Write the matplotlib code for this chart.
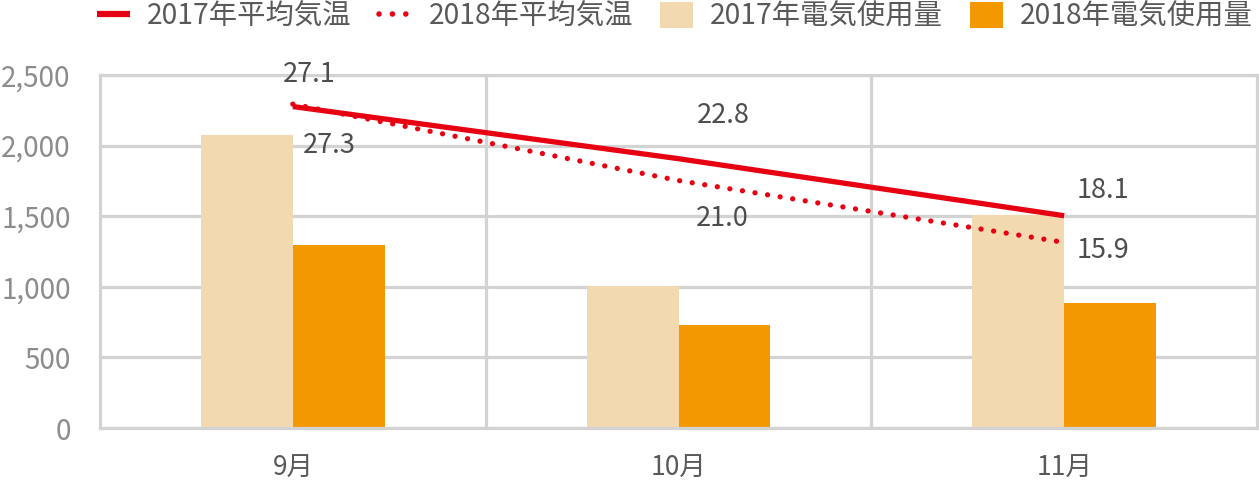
import matplotlib
matplotlib.use("Agg")
import matplotlib.pyplot as plt
from matplotlib.lines import Line2D
from matplotlib.patches import Patch
import numpy as np

plt.rcParams['font.family'] = ['Noto Sans CJK JP', 'DejaVu Sans']

months = ['9月', '10月', '11月']
power_2017 = [2075, 1003, 1508]
power_2018 = [1298, 730, 887]
temp_2017 = [27.1, 22.8, 18.1]
temp_2018 = [27.3, 21.0, 15.9]
yticks = [0, 500, 1000, 1500, 2000, 2500]
ytick_labels = ['0', '500', '1,000', '1,500', '2,000', '2,500']

label_2017_temp = '2017年平均気温'
label_2018_temp = '2018年平均気温'
label_2017_pow = '2017年電気使用量'
label_2018_pow = '2018年電気使用量'

c_bar17 = '#F3D9B0'
c_bar18 = '#F39800'
c_line = '#E60012'
c_grid = '#D3D3D3'
c_text = '#595959'
c_ytick = '#8C8C8C'
c_label = '#4D4D4D'

W, H = 1259, 482
fig = plt.figure(figsize=(W / 100, H / 100), dpi=100)
ax = fig.add_axes([100 / W, 1 - 428 / H, (1257 - 100) / W, (428 - 75) / H])

x = np.arange(len(months))
bw = 0.238
ax.bar(x - bw / 2, power_2017, width=bw, color=c_bar17, zorder=2)
ax.bar(x + bw / 2, power_2018, width=bw, color=c_bar18, zorder=2)

ax.set_xlim(-0.5, len(months) - 0.5)
ax.set_ylim(0, 2500)
ax.set_yticks(yticks)
ax.set_yticklabels(ytick_labels)
ax.set_xticks(x)
ax.set_xticklabels(months)
ax.set_xticks(np.arange(0.5, len(months) - 0.5, 1.0), minor=True)
ax.tick_params(axis='y', length=0, pad=21, labelsize=20, labelcolor=c_ytick)
ax.tick_params(axis='x', which='major', length=0, pad=19, labelsize=19, labelcolor=c_text)
ax.tick_params(axis='x', which='minor', length=0)
ax.grid(axis='y', which='major', color=c_grid, linewidth=2.3, zorder=0)
ax.grid(axis='x', which='minor', color=c_grid, linewidth=2.3, zorder=0)
ax.set_axisbelow(True)
for s in ax.spines.values():
    s.set_color(c_grid)
    s.set_linewidth(2.3)

ax2 = ax.twinx()
ax2.set_ylim(0.6, 29.7)
ax2.axis('off')
ax2.plot(x, temp_2017, color=c_line, linewidth=3.8, solid_capstyle='butt', zorder=3)
ax2.plot(x, temp_2018, color=c_line, linewidth=3.8, linestyle=(0, (0.01, 2.4)),
         dash_capstyle='round', zorder=3)

offs17 = [(12, 23), (32, 31), (28, 18)]
offs18 = [(26.5, -29.5), (31.5, -27), (28, -5.5)]
for xi, v, o in zip(x, temp_2017, offs17):
    ax2.annotate(f'{v:.1f}', (xi, v), xytext=o, textcoords='offset points',
                 ha='center', va='center', fontsize=19.5, color=c_label)
for xi, v, o in zip(x, temp_2018, offs18):
    ax2.annotate(f'{v:.1f}', (xi, v), xytext=o, textcoords='offset points',
                 ha='center', va='center', fontsize=19.5, color=c_label)

handles = [
    Line2D([0], [0], color=c_line, linewidth=4.5, solid_capstyle='butt'),
    Line2D([0], [0], color=c_line, linewidth=4, linestyle=(0, (0.01, 2.4)), dash_capstyle='round'),
    Patch(facecolor=c_bar17, edgecolor='none'),
    Patch(facecolor=c_bar18, edgecolor='none'),
]
labels = [label_2017_temp, label_2018_temp, label_2017_pow, label_2018_pow]
leg = fig.legend(handles, labels, loc='center', bbox_to_anchor=(675 / W, 1 - 17 / H),
                 ncol=4, frameon=False, fontsize=20.4, handlelength=1.17, handleheight=1.05,
                 handletextpad=0.6, columnspacing=0.95, borderaxespad=0, borderpad=0)
for t in leg.get_texts():
    t.set_color(c_text)

fig.savefig('out.png', dpi=100)
